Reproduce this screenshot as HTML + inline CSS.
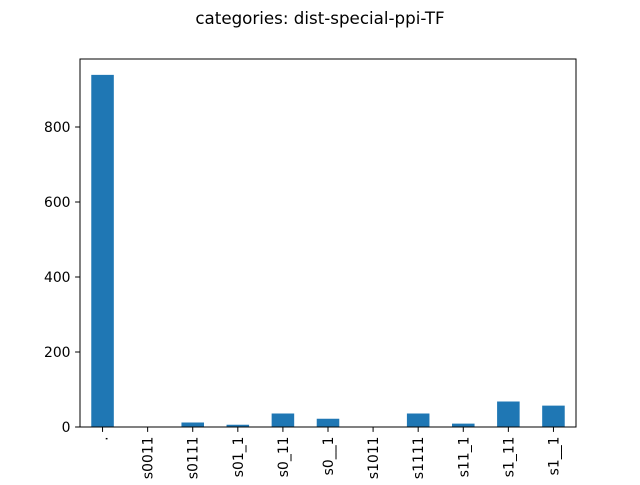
<!DOCTYPE html>
<html><head><meta charset="utf-8"><style>
body{margin:0;background:#fff;font-family:"Liberation Sans","DejaVu Sans",sans-serif;}
svg text{font-family:"DejaVu Sans","Liberation Sans",sans-serif;}
</style></head><body>
<svg id="chart" width="640" height="480" xmlns="http://www.w3.org/2000/svg">
<rect width="640" height="480" fill="#fff"/>
<text x="320" y="24" text-anchor="middle" font-size="16.7">categories: dist-special-ppi-TF</text>
<g id="bars"></g><g id="axes"></g>
</svg>
<script>
const categories=[".","s0011","s0111","s01_1","s0_11","s0__1","s1011","s1111","s11_1","s1_11","s1__1"];
const values=[939,0,12,6,36,22,0,36,9,68,57];
const yTicks=[0,200,400,600,800];
const L=80,R=576,T=59,B=427;
const NS="http://www.w3.org/2000/svg";
const y=v=>B-v*0.375;
const band=(R-L)/categories.length;
const x=i=>L+band*(i+0.5);
const bars=document.getElementById('bars'),axes=document.getElementById('axes');
function mk(t,a,p){const e=document.createElementNS(NS,t);for(const k in a)e.setAttribute(k,a[k]);p.appendChild(e);return e;}
values.forEach((v,i)=>{
 const r=mk('rect',{x:x(i)-band/4,y:y(v),width:band/2,height:B-y(v),fill:'#1f77b4'},bars);
 
 
});
const fr=mk('rect',{x:L,y:T,width:R-L,height:B-T,fill:'none',stroke:'#000','stroke-width':1},axes);


yTicks.forEach(t=>{
 mk('line',{x1:L-4.9,x2:L,y1:y(t),y2:y(t),stroke:'#000','stroke-width':1},axes);
 const tx=mk('text',{x:L-9.5,y:y(t)+5,'text-anchor':'end','font-size':13.9},axes);
 tx.textContent=t;
 
 
});
categories.forEach((c,i)=>{
 mk('line',{x1:x(i),x2:x(i),y1:B,y2:B+4.9,stroke:'#000','stroke-width':1},axes);
 const tx=mk('text',{x:0,y:0,'text-anchor':'end','font-size':13.9,transform:`translate(${x(i)+5},${B+9.5}) rotate(-90)`},axes);
 tx.textContent=c;
 
 
});
</script>
</body></html>
